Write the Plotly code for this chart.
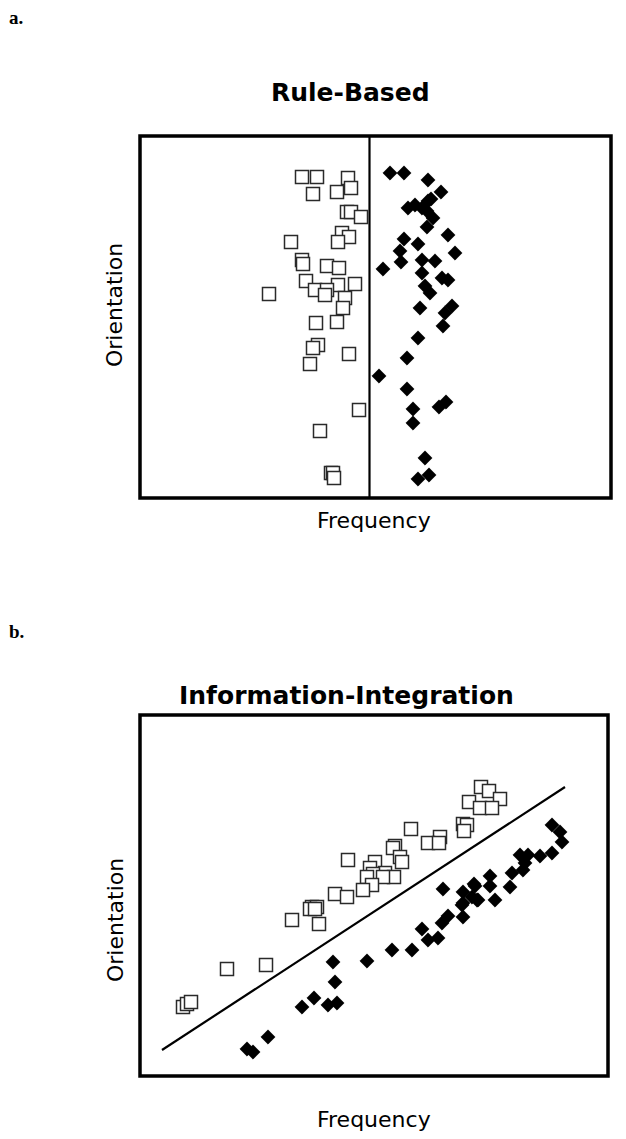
import plotly.graph_objects as go

# ---------- Panel a: Rule-Based (arbitrary units) ----------
rb_a_freq = [162, 177, 208, 211, 197, 173, 207, 211, 221, 202, 209, 198, 151, 162, 163, 187,
             199, 166, 215, 198, 175, 187, 185, 129, 205, 203, 176, 197, 178, 173, 209, 170,
             219, 180, 191, 193, 194]
rb_a_orient = [321, 321, 320, 310, 306, 304, 286, 286, 281, 265, 261, 256, 256, 238, 234, 232,
               230, 217, 214, 213, 208, 208, 203, 204, 200, 190, 175, 176, 153, 150, 144, 134,
               88, 67, 25, 25, 20]

rb_b_freq = [250, 264, 288, 301, 291, 288, 268, 275, 282, 287, 293, 287, 308, 264, 278, 260,
             315, 261, 282, 295, 243, 282, 302, 308, 285, 290, 280, 312, 305, 303, 278, 267,
             239, 267, 273, 306, 299, 273, 285, 278, 289]
rb_b_orient = [325, 325, 318, 306, 299, 297, 290, 293, 290, 287, 280, 271, 263, 259, 254, 247,
               245, 236, 238, 237, 229, 225, 220, 218, 212, 205, 190, 192, 185, 172, 160, 140,
               122, 109, 89, 96, 91, 75, 40, 19, 23]

rb_bound_freq = [229.5, 229.5]
rb_bound_orient = [0, 362]

# ---------- Panel b: Information-Integration (arbitrary units) ----------
ii_a_freq = [341, 349, 329, 360, 340, 352, 323, 327, 324, 271, 300, 288, 299, 255, 253, 260,
             262, 208, 235, 230, 245, 233, 254, 227, 243, 232, 223, 195, 207, 172, 177, 170,
             175, 152, 179, 87, 126, 43, 47, 51]
ii_a_orient = [289, 285, 274, 277, 268, 268, 252, 251, 245, 247, 239, 233, 233, 230, 228, 219,
               214, 216, 214, 208, 203, 202, 199, 199, 199, 191, 186, 182, 179, 169, 169, 167,
               167, 156, 152, 107, 111, 69, 72, 74]

ii_b_freq = [412, 420, 422, 412, 400, 388, 380, 385, 383, 372, 350, 350, 335, 370, 334, 303,
             323, 332, 338, 355, 322, 308, 323, 302, 282, 288, 298, 272, 252, 227, 193, 195,
             174, 162, 188, 197, 128, 107, 113, 323, 337]
ii_b_orient = [251, 244, 234, 223, 220, 221, 221, 213, 206, 203, 200, 190, 190, 189, 192, 187,
               184, 179, 176, 176, 171, 160, 159, 153, 147, 136, 138, 126, 126, 115, 114, 94,
               78, 69, 71, 73, 39, 27, 24, 173, 176]

ii_bound_freq = [22, 425]
ii_bound_orient = [26, 289]

W, H = 626, 1139

fig = go.Figure()

sq = dict(symbol="square", size=13, color="white", line=dict(color="#2a2a2a", width=1.5))
dm = dict(symbol="diamond", size=11, color="black", line=dict(color="black", width=0.5))

fig.add_trace(go.Scatter(x=rb_bound_freq, y=rb_bound_orient, mode="lines",
                         line=dict(color="black", width=2.2), xaxis="x", yaxis="y",
                         showlegend=False, hoverinfo="skip"))
fig.add_trace(go.Scatter(x=rb_a_freq, y=rb_a_orient, mode="markers", marker=sq,
                         xaxis="x", yaxis="y", showlegend=False))
fig.add_trace(go.Scatter(x=rb_b_freq, y=rb_b_orient, mode="markers", marker=dm,
                         xaxis="x", yaxis="y", showlegend=False))

fig.add_trace(go.Scatter(x=ii_bound_freq, y=ii_bound_orient, mode="lines",
                         line=dict(color="black", width=2.2), xaxis="x2", yaxis="y2",
                         showlegend=False, hoverinfo="skip"))
fig.add_trace(go.Scatter(x=ii_a_freq, y=ii_a_orient, mode="markers", marker=sq,
                         xaxis="x2", yaxis="y2", showlegend=False))
fig.add_trace(go.Scatter(x=ii_b_freq, y=ii_b_orient, mode="markers", marker=dm,
                         xaxis="x2", yaxis="y2", showlegend=False))

def px_y(py):
    return 1 - py / H

ax_common = dict(showgrid=False, zeroline=False, showticklabels=False, ticks="",
                 showline=False, fixedrange=True)

fig.update_layout(
    width=W, height=H,
    margin=dict(l=0, r=0, t=0, b=0),
    paper_bgcolor="white", plot_bgcolor="white",
    xaxis=dict(domain=[140 / W, 611 / W], range=[0, 471], anchor="y", **ax_common),
    yaxis=dict(domain=[px_y(498), px_y(136)], range=[0, 362], anchor="x", **ax_common),
    xaxis2=dict(domain=[140 / W, 608 / W], range=[0, 468], anchor="y2", **ax_common),
    yaxis2=dict(domain=[px_y(1076), px_y(715)], range=[0, 361], anchor="x2", **ax_common),
    shapes=[
        dict(type="rect", xref="x domain", yref="y domain", x0=0, x1=1, y0=0, y1=1,
             line=dict(color="black", width=3.5)),
        dict(type="rect", xref="x2 domain", yref="y2 domain", x0=0, x1=1, y0=0, y1=1,
             line=dict(color="black", width=3.5)),
    ],
)

title_font = dict(family="DejaVu Sans", size=25, color="black")
label_font = dict(family="DejaVu Sans", size=22, color="black")
panel_font = dict(family="Liberation Serif", size=19, color="black")

ann = [
    dict(text="<b>a.</b>", x=7 / W, y=px_y(18), xanchor="left", yanchor="middle", font=panel_font),
    dict(text="<b>b.</b>", x=7 / W, y=px_y(631), xanchor="left", yanchor="middle", font=panel_font),
    dict(text="<b>Rule-Based</b>", x=350 / W, y=px_y(92), xanchor="center", yanchor="middle", font=title_font),
    dict(text="<b>Information-Integration</b>", x=346 / W, y=px_y(695), xanchor="center", yanchor="middle", font=title_font),
    dict(text="Orientation", x=115 / W, y=px_y(305), xanchor="center", yanchor="middle", textangle=-90, font=label_font),
    dict(text="Frequency", x=374 / W, y=px_y(521), xanchor="center", yanchor="middle", font=label_font),
    dict(text="Orientation", x=115 / W, y=px_y(920), xanchor="center", yanchor="middle", textangle=-90, font=label_font),
    dict(text="Frequency", x=374 / W, y=px_y(1119), xanchor="center", yanchor="middle", font=label_font),
]
for a in ann:
    a.update(xref="paper", yref="paper", showarrow=False)
fig.update_layout(annotations=ann)

fig.write_html("out.html", config={"displayModeBar": False},
               post_script="document.body.style.margin='0';document.body.style.overflow='hidden';")
